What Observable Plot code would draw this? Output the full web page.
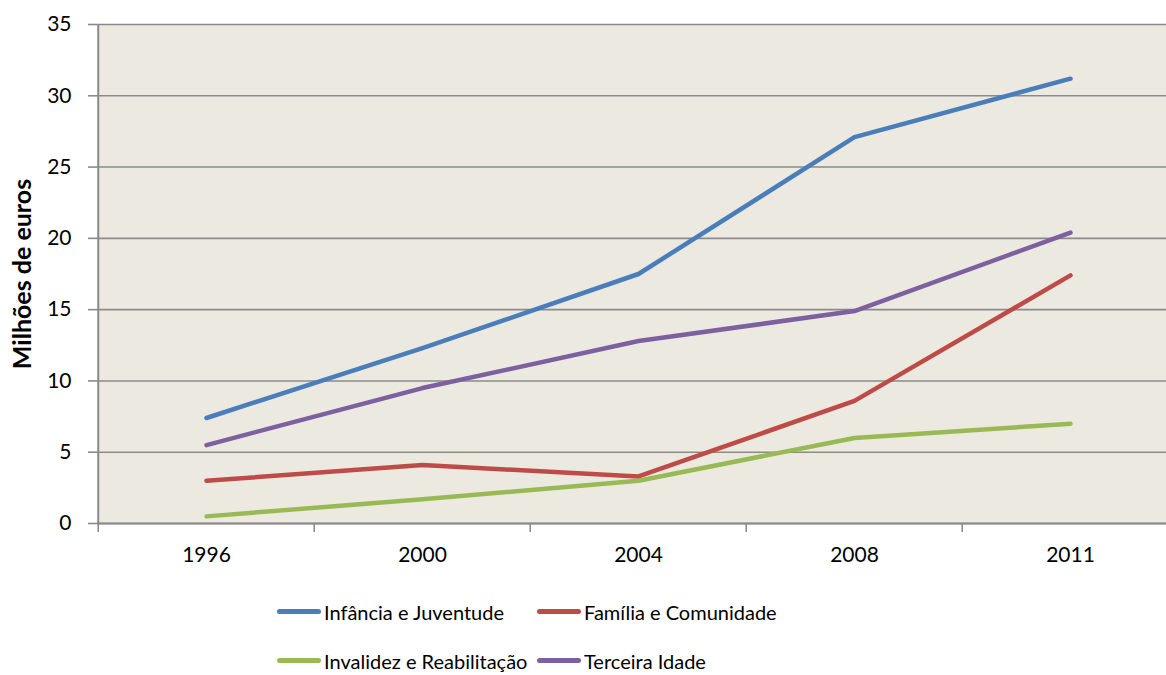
<!DOCTYPE html>
<html>
<head>
<meta charset="utf-8">
<script src="https://cdn.jsdelivr.net/npm/d3@7"></script>
<script src="https://cdn.jsdelivr.net/npm/@observablehq/plot@0.6"></script>
<style>
  html, body { margin: 0; padding: 0; background: #fff; }
  body { width: 1166px; height: 675px; overflow: hidden; font-family: Lato, "Open Sans", sans-serif; }
  #legend { display: grid; grid-template-columns: 260px 300px; margin-left: 277px; row-gap: 22px; margin-top: 13px; }
  .item { display: flex; align-items: center; font-size: 20px; color: #000; height: 27px; }
  .sw { width: 44px; height: 5px; border-radius: 3px; margin-right: 3px; }
</style>
</head>
<body>
<div id="chart"></div>
<div id="legend"></div>
<script>
const years = ["1996", "2000", "2004", "2008", "2011"];
const seriesNames = ["Infância e Juventude", "Família e Comunidade", "Invalidez e Reabilitação", "Terceira Idade"];
const infancia = [7.4, 12.3, 17.5, 27.1, 31.2];
const familia = [3.0, 4.1, 3.3, 8.6, 17.4];
const invalidez = [0.5, 1.7, 3.0, 6.0, 7.0];
const terceira = [5.5, 9.5, 12.8, 14.9, 20.4];
const yTicks = [0, 5, 10, 15, 20, 25, 30, 35];
const colors = ["#4A7EBB", "#BE4B48", "#98B954", "#7D60A0"];

const seriesValues = [infancia, familia, invalidez, terceira];
const data = seriesNames.flatMap((name, s) =>
  years.map((year, i) => ({series: name, year, value: seriesValues[s][i]})));

const W = 1166, H = 585, mL = 97, mT = 24, mB = 62;
const bandRange = [mL, mL + 5 * 216.5];
const halfBand = 216.5 / 2;
const axisColor = "#8a8a8a";

const chart = Plot.plot({
  width: W, height: H,
  marginLeft: mL, marginRight: 0, marginTop: mT, marginBottom: mB,
  style: {fontFamily: "Lato, 'Open Sans', sans-serif", fontSize: "21px", color: "#000", background: "#fff"},
  x: {type: "band", domain: years, range: bandRange, padding: 0},
  y: {domain: [0, 35]},
  color: {domain: seriesNames, range: colors},
  marks: [
    Plot.frame({fill: "#ECEAE0", stroke: null}),
    Plot.gridY(yTicks, {stroke: axisColor, strokeOpacity: 1, strokeWidth: 1.6}),
    Plot.axisY(yTicks, {tickSize: 9, tickPadding: 17, stroke: axisColor, strokeWidth: 1.6, label: null, fontSize: 21}),
    Plot.axisX({tickSize: 9, text: null, dx: -halfBand, stroke: axisColor, strokeWidth: 1.6, label: null}),
    Plot.axisX({tickSize: 0, tickPadding: 24, label: null, fontSize: 21}),
    Plot.ruleX([0], {x: () => years[0], dx: -halfBand, stroke: axisColor, strokeWidth: 2}),
    Plot.ruleY([0], {stroke: axisColor, strokeWidth: 2}),
    Plot.lineY(data, {x: "year", y: "value", z: "series", stroke: "series", strokeWidth: 4.5, strokeLinecap: "round", strokeLinejoin: "round"}),
    Plot.text(["Milhões de euros"], {frameAnchor: "left", textAnchor: "middle", rotate: -90, dx: -75, fontWeight: "bold", fontSize: 25})
  ]
});
document.getElementById("chart").appendChild(chart);

const legend = document.getElementById("legend");
seriesNames.forEach((name, i) => {
  const item = document.createElement("div");
  item.className = "item";
  const sw = document.createElement("span");
  sw.className = "sw";
  sw.style.background = colors[i];
  const t = document.createElement("span");
  t.textContent = name;
  item.appendChild(sw);
  item.appendChild(t);
  legend.appendChild(item);
});
</script>
</body>
</html>
